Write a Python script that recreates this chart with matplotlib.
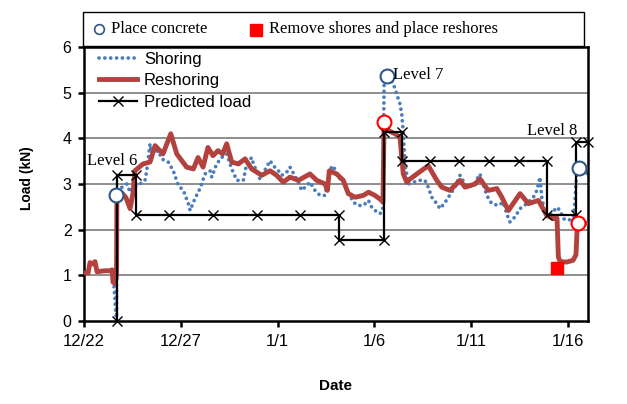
import matplotlib
matplotlib.use("Agg")
import matplotlib.pyplot as plt
from matplotlib.patches import Rectangle
from matplotlib.lines import Line2D

# x values are days since 12/22
tick_days = [0, 5, 10, 15, 20, 25]
tick_labels = ["12/22", "12/27", "1/1", "1/6", "1/11", "1/16"]

shoring_x = [1.55, 1.68, 1.70, 1.86, 2.21, 2.38, 2.53, 2.79, 3.15, 3.24, 3.41, 3.50, 3.84, 4.01,
             4.35, 4.61, 4.87, 5.13, 5.39, 5.48, 5.73, 5.99, 6.25, 6.51, 6.60, 6.85, 7.11, 7.37,
             7.63, 7.89, 8.23, 8.40, 8.66, 8.75, 9.09, 9.61, 9.78, 10.04, 10.21, 10.47, 10.64,
             11.07, 11.24, 11.42, 11.67, 11.93, 12.19, 12.45, 12.71, 12.88, 13.05, 13.39, 13.65,
             13.91, 14.17, 14.43, 14.69, 14.86, 15.03, 15.29, 15.43, 15.50, 15.67, 15.98, 16.15,
             16.32, 16.41, 16.49, 16.58, 16.75, 17.01, 17.36, 17.61, 17.78, 17.96, 18.22, 18.39,
             18.65, 18.82, 19.16, 19.42, 19.77, 20.11, 20.45, 20.80, 21.06, 21.40, 21.66, 21.83,
             22.00, 22.26, 22.52, 22.87, 23.21, 23.39, 23.55, 23.64, 23.81, 24.07, 24.42, 24.59,
             24.76, 25.02, 25.28, 25.36, 25.45, 25.58, 25.88, 26.03]
shoring_y = [0.75, 0.0, 2.75, 2.90, 3.00, 2.82, 2.93, 2.97, 3.08, 3.29, 3.88, 3.66, 3.73, 3.55,
             3.48, 3.29, 2.97, 2.86, 2.57, 2.42, 2.68, 2.90, 3.22, 3.29, 3.15, 3.44, 3.58, 3.66,
             3.33, 3.08, 3.08, 3.44, 3.58, 3.44, 3.11, 3.51, 3.40, 3.29, 3.19, 3.26, 3.37,
             3.04, 2.86, 2.93, 3.04, 2.86, 2.75, 2.75, 3.33, 3.40, 3.19, 3.04, 2.82,
             2.60, 2.53, 2.53, 2.64, 2.49, 2.42, 2.35, 2.42, 5.19, 5.37, 5.19, 4.97,
             4.75, 4.53, 4.13, 3.44, 3.00, 3.04, 3.08, 3.08, 2.93, 2.71, 2.57, 2.46,
             2.60, 2.71, 2.93, 3.19, 2.93, 2.97, 3.22, 2.75, 2.57, 2.53, 2.60, 2.35,
             2.17, 2.28, 2.46, 2.57, 2.71, 2.86, 3.15, 2.71, 2.35, 2.31, 2.49, 2.42,
             2.24, 2.20, 2.28, 2.64, 3.29, 3.35, 3.26, 3.22]

reshoring_x = [0.0, 0.21, 0.31, 0.46, 0.57, 0.67, 1.08, 1.34, 1.45, 1.50, 1.60, 1.68, 1.70, 1.96,
               2.17, 2.38, 2.53, 2.63, 3.05, 3.41, 3.67, 4.08, 4.48, 4.79, 5.30, 5.65, 5.89,
               6.15, 6.40, 6.66, 6.92, 7.16, 7.37, 7.63, 7.97, 8.32, 8.66, 9.18, 9.61, 9.95,
               10.29, 10.64, 11.07, 11.67, 12.02, 12.45, 12.57, 12.67, 13.05, 13.39, 13.65,
               14.00, 14.43, 14.69, 15.03, 15.38, 15.44, 15.50, 15.72, 16.06, 16.32, 16.49,
               16.67, 16.84, 17.19, 17.78, 18.22, 18.48, 18.90, 19.42, 19.68, 20.20, 20.45,
               20.88, 21.32, 21.58, 21.92, 22.52, 22.95, 23.47, 23.90, 24.24, 24.43, 24.50,
               24.59, 24.93, 25.26, 25.41, 25.48, 26.03]
reshoring_y = [1.05, 1.05, 1.28, 1.25, 1.30, 1.08, 1.10, 1.10, 1.12, 0.85, 0.82, 1.00, 2.80, 2.80,
               2.70, 2.46, 2.80, 3.29, 3.44, 3.48, 3.84, 3.66, 4.10, 3.66, 3.37, 3.33, 3.58,
               3.37, 3.80, 3.62, 3.73, 3.66, 3.88, 3.48, 3.44, 3.55, 3.33, 3.19, 3.29, 3.19,
               3.04, 3.15, 3.08, 3.22, 3.08, 3.00, 2.86, 3.29, 3.22, 3.08, 2.79,
               2.71, 2.75, 2.82, 2.75, 2.64, 2.60, 4.36, 4.17, 4.10, 4.02, 3.22,
               3.04, 3.11, 3.22, 3.40, 3.08, 2.93, 2.86, 3.08, 2.93, 3.00, 3.11,
               2.86, 2.90, 2.71, 2.42, 2.79, 2.57, 2.64, 2.31, 2.24, 2.25, 1.40,
               1.30, 1.29, 1.33, 1.45, 2.14, 2.14]

predicted_x = [1.70, 1.70, 2.70, 2.70, 4.41, 6.68, 8.92, 11.16, 13.17, 13.17, 15.50, 15.50, 16.41,
               16.41, 17.87, 19.39, 20.94, 22.45, 23.93, 23.93, 25.41, 25.41, 26.03]
predicted_y = [0.0, 3.20, 3.20, 2.33, 2.33, 2.33, 2.33, 2.33, 2.33, 1.77, 1.77, 4.13, 4.13,
               3.50, 3.50, 3.50, 3.50, 3.50, 3.50, 2.33, 2.33, 3.93, 3.93]

concrete_x = [1.65, 15.67, 25.58]
concrete_y = [2.75, 5.37, 3.35]
concrete_red_x = [15.50, 25.52]
concrete_red_y = [4.36, 2.14]
reshore_x = [24.45]
reshore_y = [1.15]

level_labels = ["Level 6", "Level 7", "Level 8"]
level_x = [0.15, 15.95, 22.9]
level_y = [3.5, 5.38, 4.17]

BLUE = "#4A7EBB"
RED = "#B3423F"

fig = plt.figure(figsize=(6.27, 4.04), dpi=100)
ax = fig.add_axes([84/627, 1-321/404, (588-84)/627, (321-47)/404])

for yv in [1, 2, 3, 4, 5]:
    ax.axhline(yv, color="#868686", lw=1.3, zorder=1)

DOTS = (0, (0.01, 1.55))
ax.plot(shoring_x, shoring_y, color=BLUE, lw=2.7, linestyle=DOTS,
        dash_capstyle="round", zorder=2)
ax.plot(reshoring_x, reshoring_y, color=RED, lw=3.5, solid_joinstyle="round", zorder=3)
ax.plot(predicted_x, predicted_y, color="black", lw=1.6, marker="x", ms=7, mew=1.0,
        zorder=4, clip_on=False)
ax.plot(concrete_x, concrete_y, ls="none", marker="o", ms=10, mfc="white", mec="#2F5687",
        mew=1.5, zorder=6, clip_on=False)
ax.plot(concrete_red_x, concrete_red_y, ls="none", marker="o", ms=10, mfc="white", mec="#FF0000",
        mew=1.5, zorder=6, clip_on=False)
ax.plot(reshore_x, reshore_y, ls="none", marker="s", ms=9, color="#FF0000", zorder=6)

for t, x, y in zip(level_labels, level_x, level_y):
    ax.text(x, y, t, family="Liberation Serif", fontsize=12, va="center", ha="left", zorder=7)

ax.set_xlim(0, 26.03)
ax.set_ylim(0, 6)
ax.set_xticks(tick_days)
ax.set_xticklabels(tick_labels, family="Liberation Sans", fontsize=12)
ax.set_yticks(range(7))
ax.set_yticklabels([str(v) for v in range(7)], family="Liberation Sans", fontsize=11.5)
ax.tick_params(direction="out", length=4, width=1.8, pad=5)
for s in ax.spines.values():
    s.set_linewidth(1.8)
ax.set_xlabel("Date", family="Liberation Sans", fontsize=11, fontweight="bold", labelpad=22)
fig.text(27/627, 1-178/404, "Load (kN)", rotation=90, family="Liberation Sans", fontsize=10,
         fontweight="bold", ha="center", va="center")

handles = [Line2D([], [], color=BLUE, lw=2.7, linestyle=DOTS, dash_capstyle="round"),
           Line2D([], [], color=RED, lw=3.5),
           Line2D([], [], color="black", lw=1.6, marker="x", ms=7, mew=1.0)]
ax.legend(handles, ["Shoring", "Reshoring", "Predicted load"], loc="upper left",
          frameon=False, prop={"family": "Liberation Sans", "size": 12},
          handlelength=2.3, handletextpad=0.4, labelspacing=0.4, numpoints=1,
          borderaxespad=0.2, bbox_to_anchor=(0.01, 1.02))

# top legend box
fig.add_artist(Rectangle((83/627, 1-46/404), (584-83)/627, (46-12)/404, transform=fig.transFigure,
                         fill=False, ec="black", lw=1.0))
fig.add_artist(Line2D([99/627], [1-29/404], transform=fig.transFigure, marker="o", ms=7,
                      mfc="white", mec="#2F5687", mew=1.2, ls="none"))
fig.text(111/627, 1-29/404, "Place concrete", family="Liberation Serif", fontsize=12, va="center")
fig.add_artist(Line2D([256/627], [1-30/404], transform=fig.transFigure, marker="s", ms=9,
                      color="#FF0000", ls="none"))
fig.text(269/627, 1-29/404, "Remove shores and place reshores", family="Liberation Serif",
         fontsize=12, va="center")

fig.savefig("out.png", dpi=100)
